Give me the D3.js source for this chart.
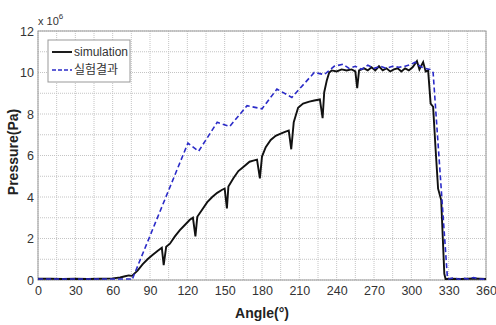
<!DOCTYPE html>
<html>
<head>
<meta charset="utf-8">
<script src="https://d3js.org/d3.v7.min.js"></script>
<style>
  body { margin: 0; background: #fff; }
  svg text { font-family: "Liberation Sans", Arial, sans-serif; }
</style>
</head>
<body>
<div id="chart"></div>
<script>
// simulation curve (angle in degrees, pressure in 1e6 Pa)
var simAngle = [0, 10, 20, 30, 40, 50, 60, 66, 70, 73, 75.5, 80, 84, 88, 92, 96, 99.5, 101, 103,
  106, 110, 114, 118, 122, 124.5, 126.5, 128, 132, 136, 140, 144, 148, 150, 151.8, 153,
  157, 161, 165, 170, 173, 176, 178.3, 180, 183, 187, 191, 195, 199, 201.5, 203.5, 205.5,
  209, 213, 218, 222, 226.5, 228.7, 230, 232, 234, 236, 240, 244, 248, 252, 255, 256.5, 258,
  262, 265, 268, 271, 274, 277, 280, 283, 286, 289, 292, 295, 298, 301, 304.5, 306.5, 309.5,
  311.5, 313.5, 315.5, 317.5, 319.5, 321.5, 324, 326.5, 327.5, 332, 340, 350, 360];
var simValue = [0.06, 0.06, 0.05, 0.06, 0.05, 0.06, 0.08, 0.12, 0.18, 0.22, 0.2, 0.45, 0.75, 1.0, 1.2, 1.4, 1.55, 0.72, 1.6,
  1.75, 2.1, 2.4, 2.65, 2.9, 3.0, 2.1, 3.05, 3.4, 3.75, 4.0, 4.2, 4.35, 4.4, 3.45, 4.5,
  4.9, 5.25, 5.45, 5.7, 5.75, 5.8, 4.9, 5.95, 6.4, 6.75, 6.95, 7.05, 7.15, 7.2, 6.3, 7.6,
  8.3, 8.5, 8.6, 8.65, 8.7, 7.8, 9.05, 9.6, 10.0, 10.1, 10.05, 10.15, 10.1, 10.15, 10.05, 9.25, 10.1,
  10.2, 10.1, 10.25, 10.1, 10.3, 10.1, 10.2, 10.05, 10.15, 10.2, 10.05, 10.2, 10.1, 10.25, 10.55, 10.15, 10.5,
  10.05, 10.1, 8.5, 8.35, 6.3, 4.4, 3.85, 0.3, 0.05, 0.06, 0.05, 0.07, 0.05];

// experiment curve (실험결과)
var expAngle = [0, 74, 75.5, 120.5, 129, 144, 154, 168, 180, 192, 204, 222, 230, 238, 245, 250,
  255, 260, 265, 270, 275, 280, 285, 290, 295, 300, 303, 307, 311, 315, 317.5, 329, 330,
  334, 338, 342, 346, 350, 354, 360];
var expValue = [0.05, 0.05, 0.0, 6.6, 6.2, 7.6, 7.4, 8.4, 8.25, 9.2, 8.8, 10.0, 9.9, 10.3, 10.4, 10.2,
  10.3, 10.15, 10.35, 10.2, 10.3, 10.2, 10.3, 10.25, 10.3, 10.4, 10.5, 10.3, 10.2, 10.15, 10.0, 0.1, 0.05,
  0.1, 0.04, 0.08, 0.05, 0.12, 0.05, 0.04];

var xTicks = [0, 30, 60, 90, 120, 150, 180, 210, 240, 270, 300, 330, 360];
var yTicks = [0, 2, 4, 6, 8, 10, 12];
var xGrid = d3.range(0, 361, 15);
var yGrid = d3.range(0, 13, 1);
var legendLabels = ["simulation", "실험결과"];

var W = 496, H = 325;
var plotL = 38, plotR = 486, plotT = 31, plotB = 280;

var svg = d3.select("#chart").append("svg")
  .attr("width", W).attr("height", H);

var x = d3.scaleLinear().domain([0, 360]).range([plotL, plotR]);
var y = d3.scaleLinear().domain([0, 12]).range([plotB, plotT]);

// grid
svg.append("g").selectAll("line").data(xGrid).enter().append("line")
  .attr("x1", d => x(d)).attr("x2", d => x(d))
  .attr("y1", plotT).attr("y2", plotB)
  .attr("stroke", "#c4c4c4").attr("stroke-dasharray", "1,1");
svg.append("g").selectAll("line").data(yGrid).enter().append("line")
  .attr("x1", plotL).attr("x2", plotR)
  .attr("y1", d => y(d)).attr("y2", d => y(d))
  .attr("stroke", "#c4c4c4").attr("stroke-dasharray", "1,1");

// frame
svg.append("rect")
  .attr("x", plotL).attr("y", plotT)
  .attr("width", plotR - plotL).attr("height", plotB - plotT)
  .attr("fill", "none").attr("stroke", "#9a9a9a");

// axes
var xAxis = svg.append("g")
  .attr("transform", "translate(0," + plotB + ")")
  .call(d3.axisBottom(x).tickValues(xTicks).tickSize(0).tickPadding(6));
var yAxis = svg.append("g")
  .attr("transform", "translate(" + plotL + ",0)")
  .call(d3.axisLeft(y).tickValues(yTicks).tickSize(0).tickPadding(4));
[xAxis, yAxis].forEach(function(a) {
  a.select(".domain").remove();
  a.selectAll("text").attr("fill", "#333").style("font-size", "12.5px");
});

// curves
var line = d3.line().x(d => x(d[0])).y(d => y(d[1]));

svg.append("path")
  .datum(d3.zip(simAngle, simValue))
  .attr("d", line)
  .attr("fill", "none").attr("stroke", "#111").attr("stroke-width", 1.9);

svg.append("path")
  .datum(d3.zip(expAngle, expValue))
  .attr("d", line)
  .attr("fill", "none").attr("stroke", "#2b2bc8").attr("stroke-width", 1.6)
  .attr("stroke-dasharray", "5,3");

// exponent label
var ex = svg.append("text").attr("x", plotL).attr("y", 25)
  .attr("fill", "#333").style("font-size", "11px");
ex.append("tspan").text("x 10");
ex.append("tspan").attr("dy", -6).style("font-size", "8px").text("6");

// axis titles
svg.append("text")
  .attr("x", (plotL + plotR) / 2).attr("y", 318)
  .attr("text-anchor", "middle").attr("font-weight", "bold")
  .attr("fill", "#222").style("font-size", "14px")
  .text("Angle(°)");
svg.append("text")
  .attr("transform", "translate(18,152) rotate(-90)")
  .attr("text-anchor", "middle").attr("font-weight", "bold")
  .attr("fill", "#222").style("font-size", "14px")
  .text("Pressure(Pa)");

// legend
var lg = svg.append("g");
lg.append("rect").attr("x", 48).attr("y", 40).attr("width", 82).attr("height", 42)
  .attr("fill", "#fff").attr("stroke", "#999");
var legendStyles = [
  { color: "#111", dash: null, w: 1.9 },
  { color: "#2b2bc8", dash: "4,2", w: 1.6 }
];
legendLabels.forEach(function(lab, i) {
  var yy = 52 + i * 18;
  lg.append("line").attr("x1", 52).attr("x2", 72).attr("y1", yy).attr("y2", yy)
    .attr("stroke", legendStyles[i].color).attr("stroke-width", legendStyles[i].w)
    .attr("stroke-dasharray", legendStyles[i].dash);
  lg.append("text").attr("x", 74).attr("y", yy + 4)
    .attr("fill", "#333").style("font-size", "12px")
    .style("font-family", i === 1 ? "'Noto Sans CJK KR', sans-serif" : null)
    .text(lab);
});
</script>
</body>
</html>
